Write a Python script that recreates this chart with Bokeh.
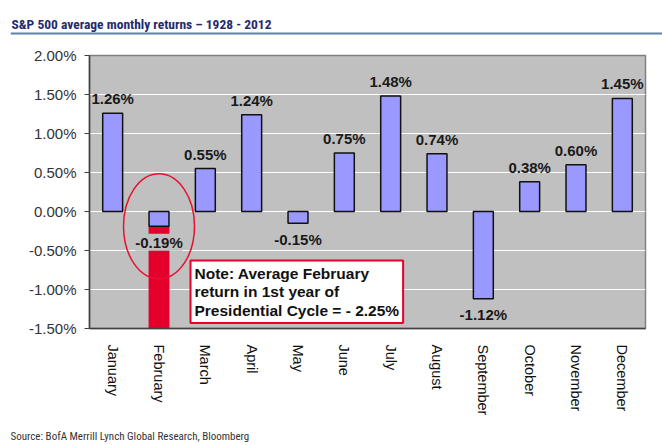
from bokeh.plotting import figure
from bokeh.models import (ColumnDataSource, LabelSet, Label, Span, Range1d,
                          PrintfTickFormatter, FixedTicker)
from bokeh.core.properties import value
from bokeh.layouts import column, row
from bokeh.embed import file_html
from bokeh.resources import INLINE

# ---------------- data ----------------
months = ["January", "February", "March", "April", "May", "June", "July",
          "August", "September", "October", "November", "December"]
avg_returns = [1.26, -0.19, 0.55, 1.24, -0.15, 0.75, 1.48, 0.74, -1.12, 0.38, 0.60, 1.45]
highlight_month = ["February"]
highlight_avg = [-0.19]
feb_first_year = [-2.25]
y_ticks = [-1.5, -1.0, -0.5, 0.0, 0.5, 1.0, 1.5, 2.0]
title_text = "S&P 500 average monthly returns \u2013 1928 - 2012"
note_text = "Note: Average February\nreturn in 1st year of\nPresidential Cycle = - 2.25%"
source_text = "Source: BofA Merrill Lynch Global Research, Bloomberg"

ARIAL = "Liberation Sans, Arial, sans-serif"
NARROW = ("Liberation Sans Narrow, Arial Narrow, Noto Sans Condensed, Roboto Condensed, "
          "Open Sans Condensed, DejaVu Sans Condensed, Liberation Sans, sans-serif")
BLUE = "#9999FF"
RED = "#E4002B"

labels = [f"{v:.2f}%" for v in avg_returns]
pos = ColumnDataSource(dict(
    month=[m for m, v in zip(months, avg_returns) if v >= 0],
    ret=[v for v in avg_returns if v >= 0],
    label=[l for l, v in zip(labels, avg_returns) if v >= 0]))
neg = ColumnDataSource(dict(
    month=[m for m, v in zip(months, avg_returns) if v < 0],
    ret=[v for v in avg_returns if v < 0],
    label=[l for l, v in zip(labels, avg_returns) if v < 0]))
bars = ColumnDataSource(dict(month=months, ret=avg_returns))


def blank(height):
    f = figure(width=662, height=height, x_range=Range1d(0, 652), y_range=Range1d(0, height),
               toolbar_location=None, output_backend="svg",
               x_axis_location=None, y_axis_location=None,
               min_border_left=10, min_border_right=0, min_border_top=0, min_border_bottom=0)
    f.grid.visible = False
    f.outline_line_color = None
    return f


# ---------------- header ----------------
h = blank(40)
h.add_layout(Label(x=1, y=17, text=title_text, text_baseline="middle",
                   text_font=NARROW, text_font_style="bold", text_font_size="13.5px",
                   text_color="#1F2B6E"))
h.add_layout(Span(location=7, dimension="width", line_color="#5F80B6", line_width=2))

# ---------------- main chart ----------------
p = figure(width=662, height=380, x_range=months, y_range=Range1d(-1.5, 2.0),
           toolbar_location=None, output_backend="svg",
           min_border_left=89, min_border_right=17, min_border_top=15, min_border_bottom=92)
p.background_fill_color = "#C0C0C0"
p.border_fill_color = "white"
p.outline_line_color = "#808080"
p.outline_line_width = 1.5

p.vbar(x=highlight_month, top=highlight_avg, bottom=feb_first_year, width=0.45,
       fill_color=RED, line_color=None)
p.vbar(x="month", top="ret", bottom=0, width=0.43, source=bars,
       fill_color=BLUE, line_color="#111111", line_width=1.5)

p.add_layout(LabelSet(x="month", y="ret", text="label", source=pos, y_offset=14.5,
                      text_align="center", text_baseline="middle",
                      text_font=value(ARIAL), text_font_style="bold", text_font_size="15px",
                      text_color="#1A1A1A"))
p.add_layout(LabelSet(x="month", y="ret", text="label", source=neg, y_offset=-16,
                      text_align="center", text_baseline="middle",
                      text_font=value(ARIAL), text_font_style="bold", text_font_size="15px",
                      text_color="#1A1A1A", background_fill_color="#C0C0C0"))

p.ellipse(x=highlight_month, y=highlight_avg, width=71, height=105,
          width_units="screen", height_units="screen",
          fill_color=None, line_color="#E8102E", line_width=1.5)

p.add_layout(Label(x=101, y=68, x_units="screen", y_units="screen", text=note_text,
                   text_align="left", text_baseline="top",
                   text_font=ARIAL, text_font_style="bold", text_font_size="15.5px",
                   text_color="#111111", text_line_height=1.1,
                   background_fill_color="white", border_line_color=RED,
                   border_line_width=2, padding=4))

p.yaxis.ticker = FixedTicker(ticks=y_ticks)
p.yaxis.formatter = PrintfTickFormatter(format="%.2f%%")
p.yaxis.major_label_text_font = ARIAL
p.yaxis.major_label_text_font_size = "15px"
p.yaxis.major_label_text_color = "#333333"
p.yaxis.major_tick_out = 5
p.yaxis.major_tick_in = 0
p.yaxis.minor_tick_line_color = None
p.yaxis.major_label_standoff = 8
p.yaxis.axis_line_color = "#404040"
p.yaxis.axis_line_width = 1.5
p.yaxis.major_tick_line_color = "#404040"

p.xaxis.major_label_orientation = "vertical"
p.xaxis.major_label_text_font = ARIAL
p.xaxis.major_label_text_font_size = "14.5px"
p.xaxis.major_label_text_color = "#111111"
p.xaxis.major_tick_line_color = None
p.xaxis.major_label_standoff = 10
p.xaxis.axis_line_color = "#404040"
p.xaxis.axis_line_width = 1.5

p.xgrid.grid_line_color = None
p.ygrid.ticker = FixedTicker(ticks=y_ticks)
p.ygrid.grid_line_color = "white"
p.ygrid.grid_line_width = 1

# ---------------- footer ----------------
ft = blank(25)
ft.add_layout(Label(x=0, y=9, text=source_text, text_baseline="middle",
                    text_font=NARROW, text_font_size="11px", text_color="#333333"))

layout = column(row(h), p, row(ft), spacing=0)
open("out.html", "w").write(file_html(layout, INLINE))
